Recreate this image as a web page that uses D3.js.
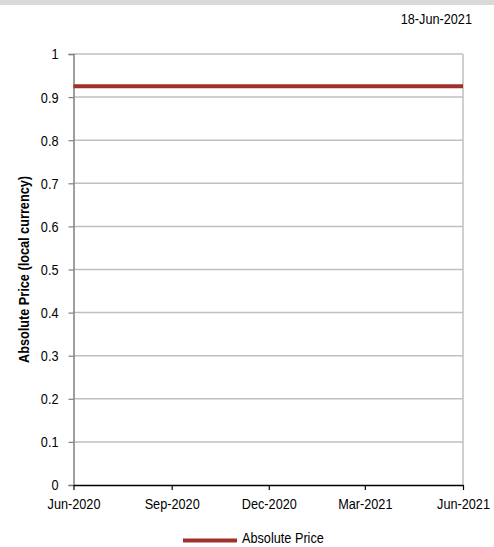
<!DOCTYPE html>
<html><head><meta charset="utf-8">
<script src="https://cdn.jsdelivr.net/npm/d3@7"></script>
<style>
body{margin:0;background:#fff;}
svg{display:block;}
svg text{font-family:"Liberation Sans",Arial,sans-serif;}
</style></head><body>
<svg id="c" width="494" height="547"></svg>
<script>
const dates = ["2020-06-18","2020-07-18","2020-08-18","2020-09-18","2020-10-18","2020-11-18","2020-12-18","2021-01-18","2021-02-18","2021-03-18","2021-04-18","2021-05-18","2021-06-18"];
const prices = [0.925,0.925,0.925,0.925,0.925,0.925,0.925,0.925,0.925,0.925,0.925,0.925,0.925];
const xTickDates = ["2020-06-18","2020-09-18","2020-12-18","2021-03-18","2021-06-18"];
const xTickLabels = ["Jun-2020","Sep-2020","Dec-2020","Mar-2021","Jun-2021"];
const yTicks = [0,0.1,0.2,0.3,0.4,0.5,0.6,0.7,0.8,0.9,1];
const seriesName = "Absolute Price";
const dateStamp = "18-Jun-2021";

const parse = d3.timeParse("%Y-%m-%d");
const svg = d3.select("#c");
const FONT = '"Liberation Sans", Arial, sans-serif';
const FS = 15.5, NARROW = 0.82;
const L=73.5, R=463, T=54, B=485;
const x = d3.scaleTime().domain([parse(xTickDates[0]), parse(xTickDates[xTickDates.length-1])]).range([L,R]);
const y = d3.scaleLinear().domain([0,1]).range([B,T]);

// emulate a condensed (Arial Narrow-like) face with a horizontal scale
function narrow(sel){
  sel.each(function(){
    const t = d3.select(this);
    const x0 = +(t.attr("x") || 0);
    const tr = t.attr("transform") || "";
    t.attr("x", x0/NARROW).attr("transform", (tr + ` scale(${NARROW},1)`).trim());
  });
}

svg.append("rect").attr("x",0).attr("y",0).attr("width",494).attr("height",5).attr("fill","#d9d9d9");
svg.append("text").attr("x",472).attr("y",24).attr("text-anchor","end").attr("font-size",FS).attr("fill","#000").text(dateStamp).call(narrow);

// grid
svg.append("g").selectAll("line").data(yTicks.filter(d=>d>0)).join("line")
  .attr("x1",L).attr("x2",R).attr("y1",d=>y(d)).attr("y2",d=>y(d))
  .attr("stroke","#bfbfbf").attr("stroke-width",1.5);
// right border
svg.append("line").attr("x1",R).attr("x2",R).attr("y1",T).attr("y2",B).attr("stroke","#bfbfbf").attr("stroke-width",1.5);

// y axis
const ya = svg.append("g").attr("transform",`translate(${L},0)`)
  .call(d3.axisLeft(y).tickValues(yTicks).tickFormat(d3.format("~g")).tickSize(5).tickPadding(10));
ya.attr("font-family",FONT).attr("font-size",FS);
ya.select(".domain").attr("stroke","#808080").attr("stroke-width",1.5);
ya.selectAll(".tick line").attr("stroke","#808080").attr("stroke-width",1.2);
ya.selectAll(".tick text").attr("fill","#000").call(narrow);

// x axis
const xa = svg.append("g").attr("transform",`translate(0,${B})`)
  .call(d3.axisBottom(x).tickValues(xTickDates.map(parse)).tickFormat((d,i)=>xTickLabels[i]).tickSize(5).tickSizeOuter(0).tickPadding(8));
xa.attr("font-family",FONT).attr("font-size",FS);
xa.select(".domain").attr("stroke","#000").attr("stroke-width",1.5);
xa.selectAll(".tick line").attr("stroke","#000").attr("stroke-width",1.2);
xa.selectAll(".tick text").attr("fill","#000").call(narrow);

// line
const line = d3.line().x((d,i)=>x(parse(dates[i]))).y(d=>y(d));
svg.append("path").datum(prices).attr("d",line).attr("fill","none").attr("stroke","#a0302a").attr("stroke-width",4);

// y title
svg.append("text").attr("transform",`translate(29,${(T+B)/2}) rotate(-90)`).attr("text-anchor","middle")
  .attr("font-size",FS).attr("font-weight","bold").attr("fill","#000").text("Absolute Price (local currency)").call(narrow);

// legend
svg.append("line").attr("x1",183).attr("x2",237).attr("y1",540.5).attr("y2",540.5).attr("stroke","#a0302a").attr("stroke-width",4);
svg.append("text").attr("x",242).attr("y",543.5).attr("font-size",FS).attr("fill","#000").text(seriesName).call(narrow);
</script>
</body></html>
